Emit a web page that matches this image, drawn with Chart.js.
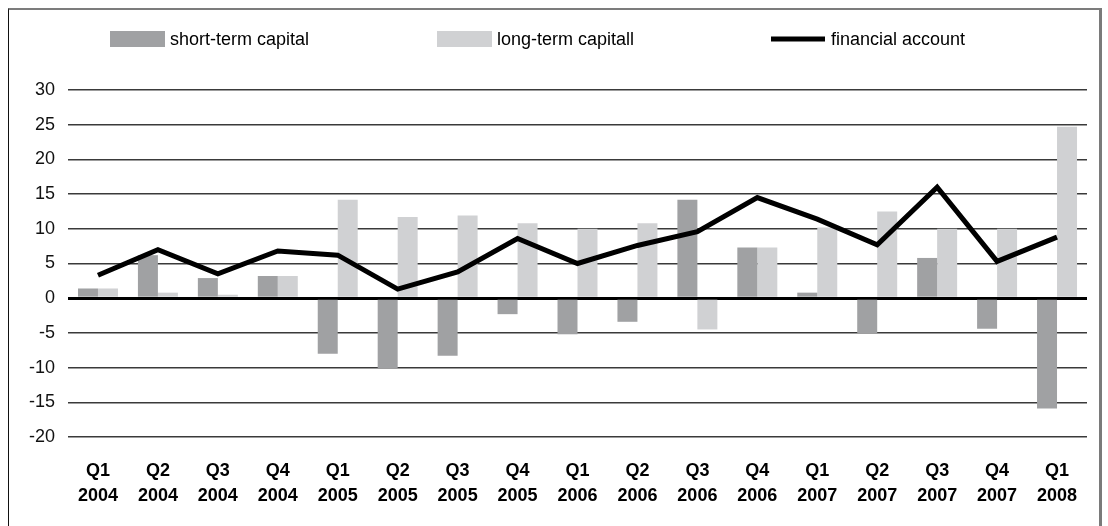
<!DOCTYPE html>
<html>
<head>
<meta charset="utf-8">
<script src="https://cdn.jsdelivr.net/npm/chart.js@4.4.1/dist/chart.umd.min.js"></script>
<style>
  html, body { margin: 0; padding: 0; background: #fff; }
  #wrap { position: relative; width: 1108px; height: 526px; overflow: hidden; }
  #frame {
    position: absolute; left: 8px; top: 8px; width: 1094px; height: 540px;
    border-top: 2px solid #7c7c7c; border-left: 1px solid #111; border-right: 3px solid #7a7a7a;
    box-sizing: border-box; pointer-events: none;
  }
  canvas { position: absolute; left: 0; top: 0; }
</style>
</head>
<body>
<div id="wrap">
  <canvas id="c" width="1108" height="526"></canvas>
  <div id="frame"></div>
</div>
<script>
// Quarterly capital flows
const quarters = [
  ["Q1","2004"],["Q2","2004"],["Q3","2004"],["Q4","2004"],
  ["Q1","2005"],["Q2","2005"],["Q3","2005"],["Q4","2005"],
  ["Q1","2006"],["Q2","2006"],["Q3","2006"],["Q4","2006"],
  ["Q1","2007"],["Q2","2007"],["Q3","2007"],["Q4","2007"],
  ["Q1","2008"]
];
const shortTerm = [1.4, 6.2, 2.9, 3.2, -8.0, -10.1, -8.3, -2.3, -5.2, -3.4, 14.2, 7.3, 0.8, -5.1, 5.8, -4.4, -15.9];
const longTerm  = [1.4, 0.8, 0.5, 3.2, 14.2, 11.7, 11.9, 10.8, 10.0, 10.8, -4.5, 7.3, 10.2, 12.5, 10.0, 10.0, 24.7];
const financial = [3.3, 7.0, 3.5, 6.8, 6.2, 1.3, 3.8, 8.6, 5.0, 7.6, 9.6, 14.5, 11.4, 7.7, 16.0, 5.3, 8.8];
const yTicks = { min: -20, max: 30, step: 5 };

const FONT = "'Liberation Sans', Arial, sans-serif";

// Legend row across the top: filled boxes for bars, a thick stroke for the line
const topLegend = {
  id: 'topLegend',
  afterDraw(chart) {
    const ctx = chart.ctx;
    const starts = [110, 437, 771];
    const y = 39;
    ctx.save();
    ctx.font = "18px " + FONT;
    ctx.textBaseline = 'middle';
    ctx.textAlign = 'left';
    starts.forEach((x, i) => {
      const ds = chart.data.datasets[i];
      if (ds.type === 'line') {
        ctx.strokeStyle = ds.borderColor;
        ctx.lineWidth = 5;
        ctx.beginPath();
        ctx.moveTo(x, y);
        ctx.lineTo(x + 54, y);
        ctx.stroke();
      } else {
        ctx.fillStyle = ds.backgroundColor;
        ctx.fillRect(x, y - 8, 55, 16);
      }
      ctx.fillStyle = '#000';
      ctx.fillText(ds.label, x + 60, y + 1);
    });
    ctx.restore();
  }
};

new Chart(document.getElementById('c'), {
  data: {
    labels: quarters,
    datasets: [
      {
        type: 'bar', label: 'short-term capital', data: shortTerm,
        backgroundColor: '#a0a1a3', order: 2,
        categoryPercentage: 0.667, barPercentage: 1.0
      },
      {
        type: 'bar', label: 'long-term capitall', data: longTerm,
        backgroundColor: '#d0d1d3', order: 2,
        categoryPercentage: 0.667, barPercentage: 1.0
      },
      {
        type: 'line', label: 'financial account', data: financial,
        borderColor: '#000', backgroundColor: '#000', borderWidth: 5,
        pointRadius: 0, tension: 0, borderJoinStyle: 'miter', order: 1
      }
    ]
  },
  options: {
    responsive: false,
    animation: false,
    layout: { padding: { top: 90, right: 21, left: 0, bottom: 0 } },
    plugins: { legend: { display: false }, tooltip: { enabled: false } },
    scales: {
      x: {
        grid: { display: false },
        border: { display: false },
        ticks: {
          color: '#000', padding: 14, maxRotation: 0, autoSkip: false,
          font: { family: FONT, size: 18, weight: 'bold', lineHeight: 1.39 }
        },
        afterFit(scale) { scale.height = 89; }
      },
      y: {
        min: yTicks.min, max: yTicks.max,
        border: { display: false },
        grid: {
          drawTicks: false,
          color: ctx => ctx.tick && ctx.tick.value === 0 ? '#000' : '#3a3a3a',
          lineWidth: ctx => ctx.tick && ctx.tick.value === 0 ? 3 : 1.5
        },
        ticks: {
          stepSize: yTicks.step, color: '#111', padding: 13,
          font: { family: FONT, size: 18 }
        },
        afterFit(scale) { scale.width = 68; }
      }
    }
  },
  plugins: [topLegend]
});
</script>
</body>
</html>
